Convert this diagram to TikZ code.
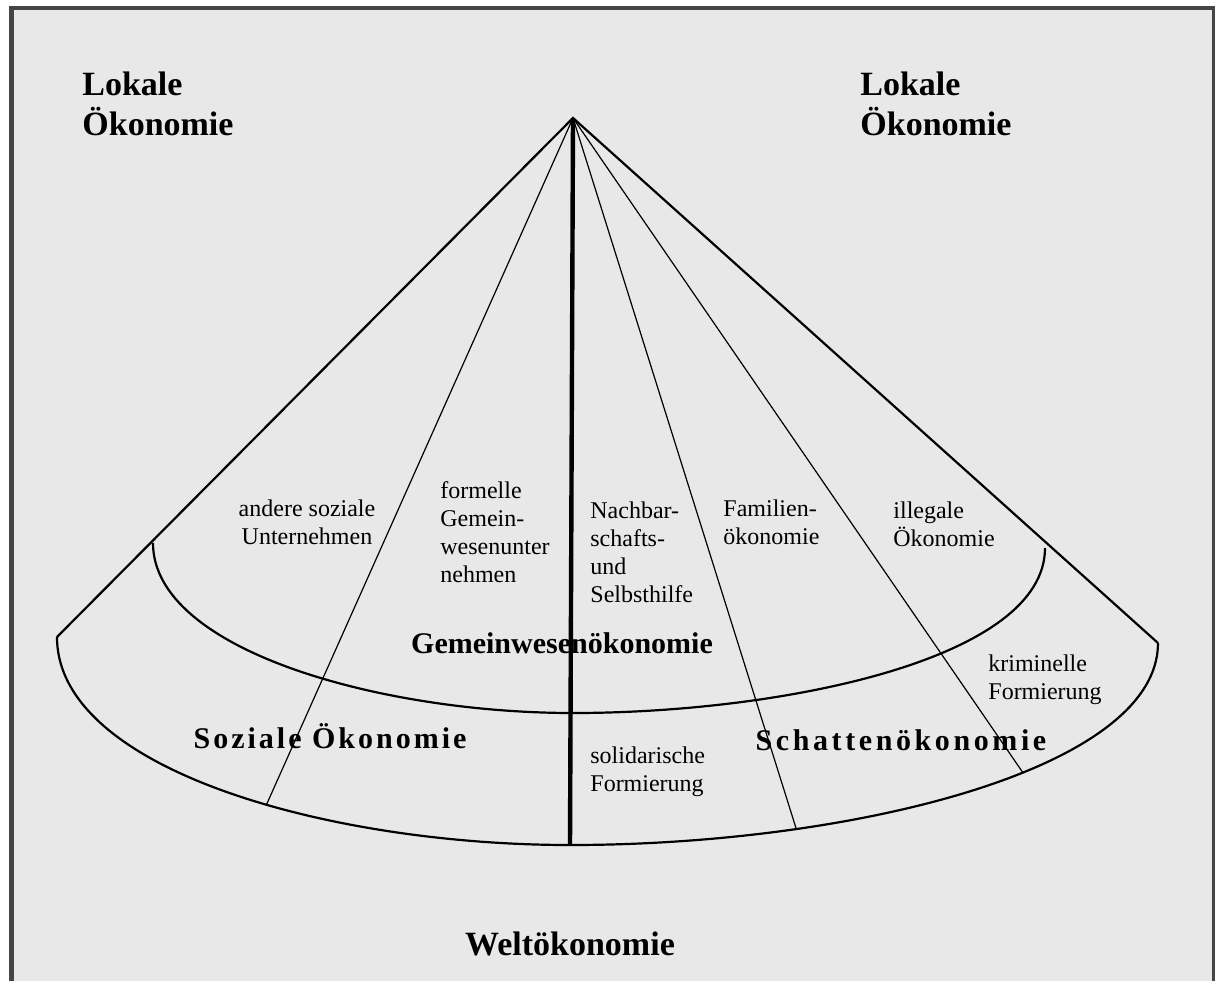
\documentclass[tikz,border=0pt]{standalone}
\usepackage{fontspec}
\setmainfont{Liberation Serif}
\definecolor{paper}{HTML}{E8E8E8}
\definecolor{frame}{HTML}{454545}

\begin{document}
\begin{tikzpicture}
    [
      x=0.5pt, y=-0.5pt,
      title/.style={font=\fontsize{17}{20}\selectfont\bfseries, inner sep=0pt},
      sector/.style={font=\fontsize{15}{18}\selectfont\bfseries, inner sep=0pt},
      field/.style={font=\fontsize{12}{14}\selectfont, align=left, inner sep=0pt, anchor=north west},
      rim/.style={draw, line width=1.1pt},
      ray/.style={draw, line width=0.6pt},
      axis/.style={draw, line width=2.2pt}
    ]
    \useasboundingbox (0,0) rectangle (1215,981);
    \fill[white] (0,0) rectangle (1215,981);
    \fill[frame] (9,6) rectangle (1215,981);
    \fill[paper] (14,10) rectangle (1212,981);

    \coordinate (apex) at (573,118);
    \coordinate (outer-l) at (57,637);
    \coordinate (outer-b) at (570,845);
    \coordinate (outer-r) at (1158,643);
    \coordinate (inner-l) at (153,543);
    \coordinate (inner-b) at (573,713);
    \coordinate (inner-r) at (1045,548);

    \node (lokal-l) [title, align=left, anchor=north west] at (82,72) {Lokale\\Ökonomie};
    \node (lokal-r) [title, align=left, anchor=north west] at (860,72) {Lokale\\Ökonomie};
    \node (welt) [title, anchor=base] at (570,955) {Weltökonomie};
    \node (gemein) [sector, anchor=base] at (562,653) {Gemeinwesenökonomie};
    \node (sozial) [sector, anchor=base] at (330,748) {\addfontfeature{LetterSpace=10}Soziale Ökonomie};
    \node (schatten) [sector, anchor=base] at (901,750) {\addfontfeature{LetterSpace=12}Schattenökonomie};

    \node (andere) [field, align=center, anchor=north] at (307,499) {andere soziale\\Unternehmen};
    \node (formell) [field] at (440,481) {formelle\\Gemein-\\wesenunter\\nehmen};
    \node (nachbar) [field] at (590,501) {Nachbar-\\schafts-\\und\\Selbsthilfe};
    \node (familie) [field] at (723,499) {Familien-\\ökonomie};
    \node (illegal) [field] at (893,501) {illegale\\Ökonomie};
    \node (kriminell) [field] at (988,654) {kriminelle\\Formierung};
    \node (solidar) [field] at (590,746) {solidarische\\Formierung};

    % outer and inner rims
    \draw [rim] (outer-l) .. controls (57,770) and (330,845) .. coordinate[pos=0.57] (foot-l) (outer-b)
      .. controls (850,845) and (1158,770) .. coordinate[pos=0.27] (foot-m) coordinate[pos=0.585] (foot-r) (outer-r);
    \draw [rim] (inner-l) .. controls (153,650) and (380,713) .. (inner-b)
      .. controls (780,713) and (1045,660) .. (inner-r);
    \draw [rim] (outer-l) -- (apex) -- (outer-r);

    % rays from the apex
    \draw [ray] (apex) -- (foot-l);
    \draw [ray] (apex) -- (foot-m);
    \draw [ray] (apex) -- (foot-r);
    \draw [axis] (apex) -- (outer-b);
  \end{tikzpicture}
\end{document}
